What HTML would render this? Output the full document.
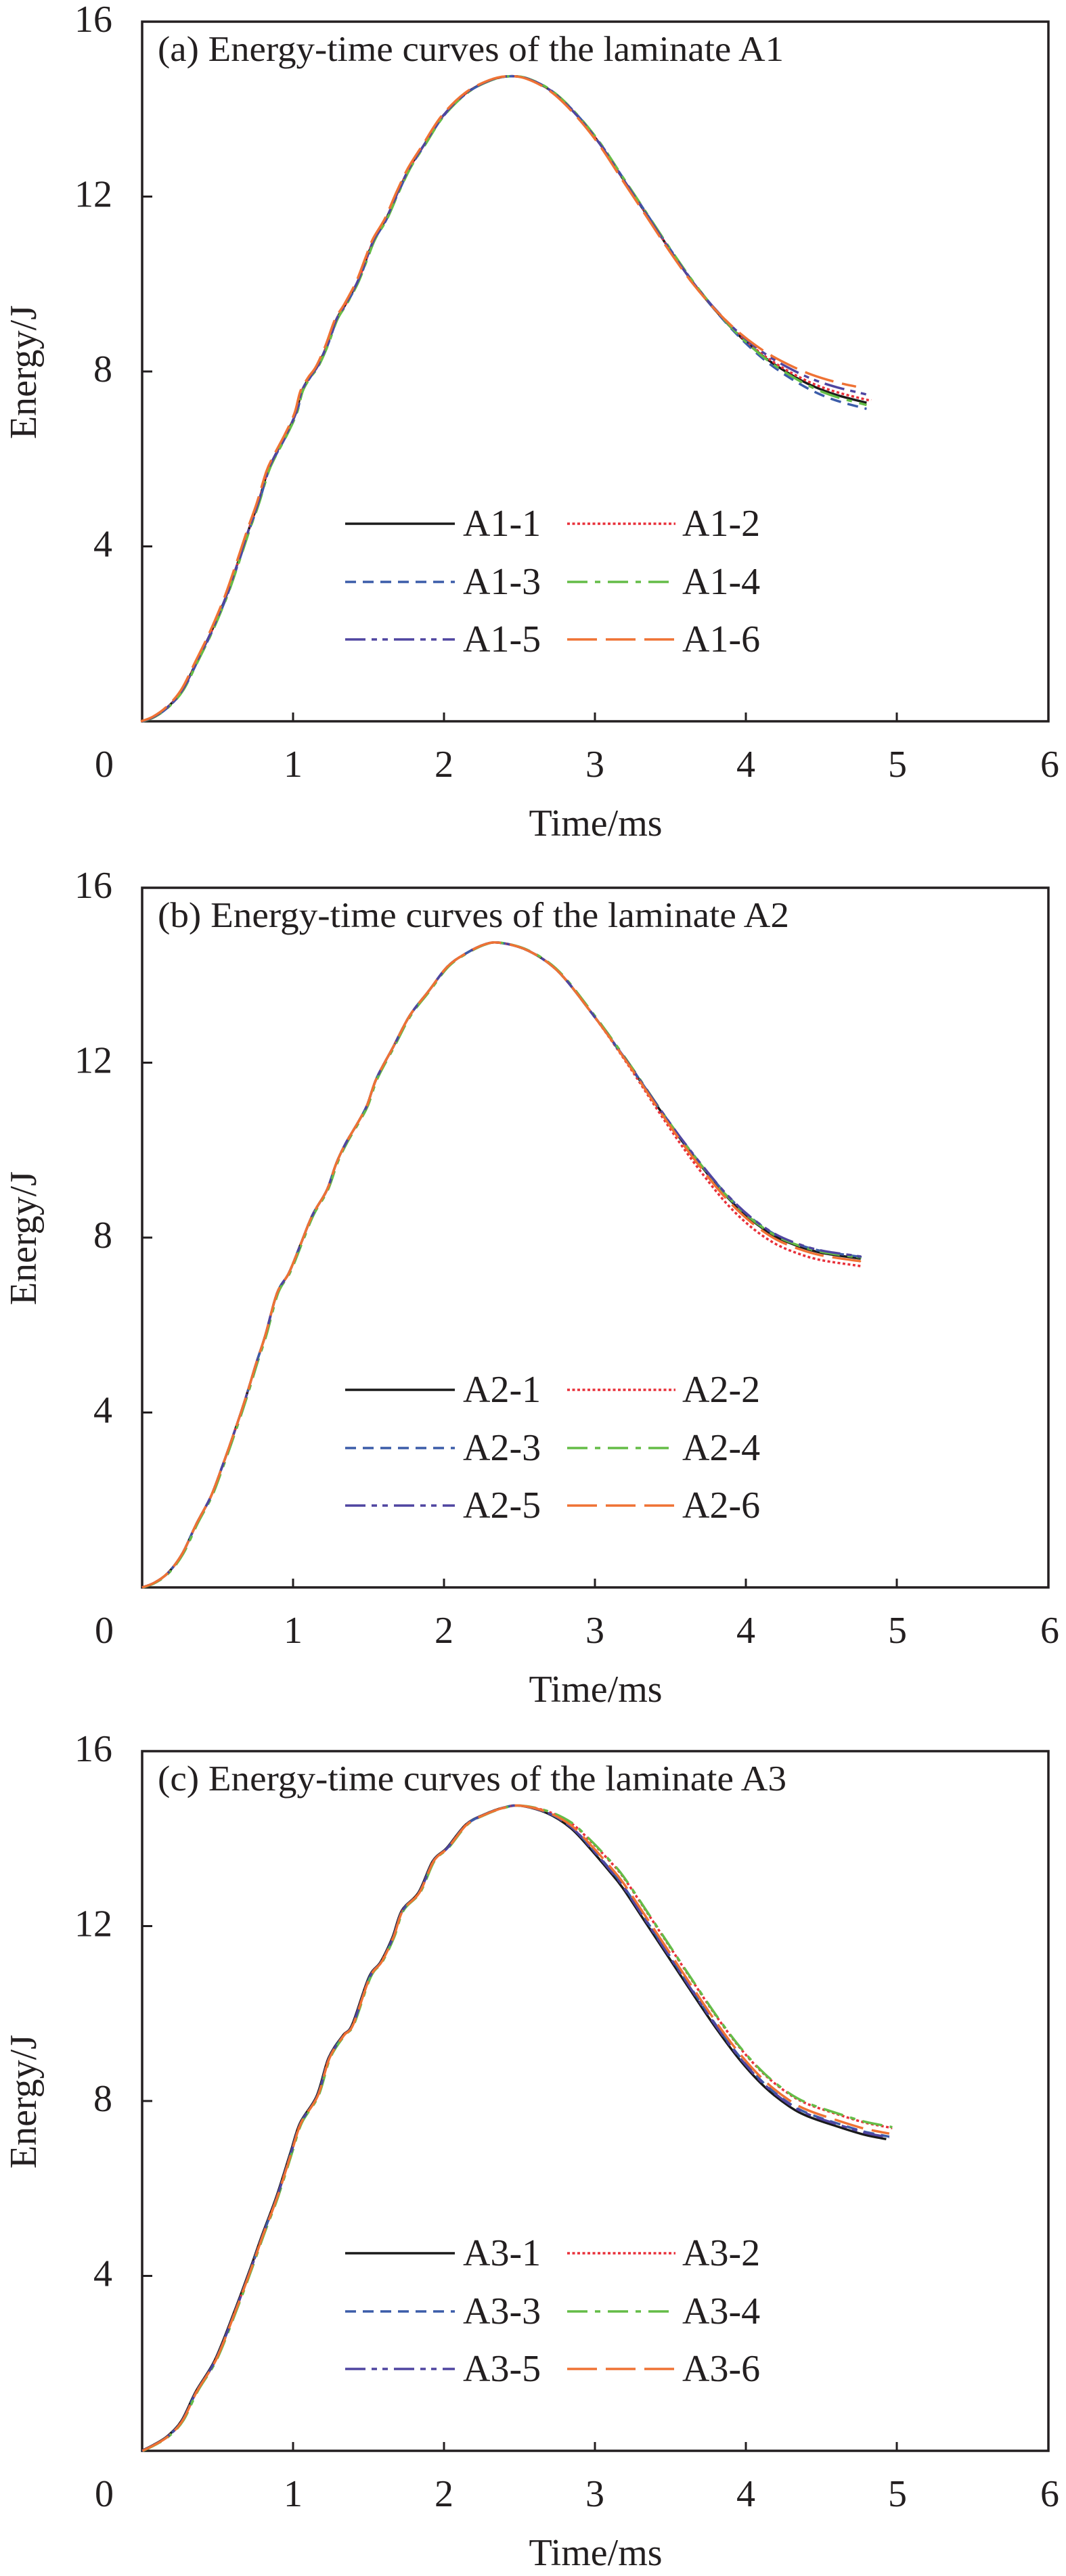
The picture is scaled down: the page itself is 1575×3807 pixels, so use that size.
<!DOCTYPE html>
<html>
<head>
<meta charset="utf-8">
<style>
  html,body{margin:0;padding:0;background:#fff;}
  svg{display:block;}
  text{font-family:"Liberation Serif","Times New Roman",serif;fill:#231f20;}
  .tk{font-size:56px;}
  .lg{font-size:56px;}
  .tt{font-size:53px;}
</style>
</head>
<body>
<svg id="fig" xmlns="http://www.w3.org/2000/svg" width="1575" height="3807" viewBox="0 0 1575 3807">
  <rect x="0" y="0" width="1575" height="3807" fill="#fff"/>

  <!-- ================= Plot (a) ================= -->
  <g id="pa">
    <rect x="210" y="32" width="1339" height="1034" fill="none" stroke="#231f20" stroke-width="3.5"/>
    <g stroke="#231f20" stroke-width="3">
      <line x1="433" y1="1066" x2="433" y2="1053"/>
      <line x1="656" y1="1066" x2="656" y2="1053"/>
      <line x1="879" y1="1066" x2="879" y2="1053"/>
      <line x1="1102" y1="1066" x2="1102" y2="1053"/>
      <line x1="1325" y1="1066" x2="1325" y2="1053"/>
      <line x1="210" y1="807.5" x2="225" y2="807.5"/>
      <line x1="210" y1="549" x2="225" y2="549"/>
      <line x1="210" y1="290.5" x2="225" y2="290.5"/>
    </g>
    <g class="tk" text-anchor="end">
      <text x="166" y="822.5">4</text>
      <text x="166" y="564">8</text>
      <text x="166" y="305.5">12</text>
      <text x="166" y="47">16</text>
    </g>
    <g class="tk" text-anchor="middle">
      <text x="154" y="1148">0</text>
      <text x="433" y="1148">1</text>
      <text x="656" y="1148">2</text>
      <text x="879" y="1148">3</text>
      <text x="1102" y="1148">4</text>
      <text x="1326" y="1148">5</text>
      <text x="1551" y="1148">6</text>
      <text x="880" y="1235">Time/ms</text>
      <text transform="translate(53,550) rotate(-90)">Energy/J</text>
    </g>
    <text class="tt" x="233" y="90" textLength="925" lengthAdjust="spacingAndGlyphs">(a) Energy-time curves of the laminate A1</text>
    <g id="curves-a"></g>
    <g stroke-width="3.4" fill="none">
      <line x1="510" y1="774" x2="672" y2="774" stroke="#1a1a1a"/>
      <line x1="838" y1="774" x2="998" y2="774" stroke="#e8303a" stroke-dasharray="4 3.5"/>
      <line x1="510" y1="860" x2="672" y2="860" stroke="#3b5ca9" stroke-dasharray="16 10"/>
      <line x1="838" y1="860" x2="998" y2="860" stroke="#64bc47" stroke-dasharray="30 11 8 11"/>
      <line x1="510" y1="945" x2="672" y2="945" stroke="#4f45a0" stroke-dasharray="30 9 8 8 8 9"/>
      <line x1="838" y1="945" x2="998" y2="945" stroke="#ef7234" stroke-dasharray="44 13"/>
    </g>
    <g class="lg">
      <text x="684" y="792">A1-1</text>
      <text x="1008" y="792">A1-2</text>
      <text x="684" y="878">A1-3</text>
      <text x="1008" y="878">A1-4</text>
      <text x="684" y="963">A1-5</text>
      <text x="1008" y="963">A1-6</text>
    </g>
  </g>

  <!-- ================= Plot (b) ================= -->
  <g id="pb">
    <rect x="210" y="1312" width="1339" height="1034" fill="none" stroke="#231f20" stroke-width="3.5"/>
    <g stroke="#231f20" stroke-width="3">
      <line x1="433" y1="2346" x2="433" y2="2333"/>
      <line x1="656" y1="2346" x2="656" y2="2333"/>
      <line x1="879" y1="2346" x2="879" y2="2333"/>
      <line x1="1102" y1="2346" x2="1102" y2="2333"/>
      <line x1="1325" y1="2346" x2="1325" y2="2333"/>
      <line x1="210" y1="2087.5" x2="225" y2="2087.5"/>
      <line x1="210" y1="1829" x2="225" y2="1829"/>
      <line x1="210" y1="1570.5" x2="225" y2="1570.5"/>
    </g>
    <g class="tk" text-anchor="end">
      <text x="166" y="2102.5">4</text>
      <text x="166" y="1844">8</text>
      <text x="166" y="1585.5">12</text>
      <text x="166" y="1327">16</text>
    </g>
    <g class="tk" text-anchor="middle">
      <text x="154" y="2428">0</text>
      <text x="433" y="2428">1</text>
      <text x="656" y="2428">2</text>
      <text x="879" y="2428">3</text>
      <text x="1102" y="2428">4</text>
      <text x="1326" y="2428">5</text>
      <text x="1551" y="2428">6</text>
      <text x="880" y="2515">Time/ms</text>
      <text transform="translate(53,1830) rotate(-90)">Energy/J</text>
    </g>
    <text class="tt" x="233" y="1370" textLength="933" lengthAdjust="spacingAndGlyphs">(b) Energy-time curves of the laminate A2</text>
    <g id="curves-b"></g>
    <g stroke-width="3.4" fill="none">
      <line x1="510" y1="2054" x2="672" y2="2054" stroke="#1a1a1a"/>
      <line x1="838" y1="2054" x2="998" y2="2054" stroke="#e8303a" stroke-dasharray="4 3.5"/>
      <line x1="510" y1="2140" x2="672" y2="2140" stroke="#3b5ca9" stroke-dasharray="16 10"/>
      <line x1="838" y1="2140" x2="998" y2="2140" stroke="#64bc47" stroke-dasharray="30 11 8 11"/>
      <line x1="510" y1="2225" x2="672" y2="2225" stroke="#4f45a0" stroke-dasharray="30 9 8 8 8 9"/>
      <line x1="838" y1="2225" x2="998" y2="2225" stroke="#ef7234" stroke-dasharray="44 13"/>
    </g>
    <g class="lg">
      <text x="684" y="2072">A2-1</text>
      <text x="1008" y="2072">A2-2</text>
      <text x="684" y="2158">A2-3</text>
      <text x="1008" y="2158">A2-4</text>
      <text x="684" y="2243">A2-5</text>
      <text x="1008" y="2243">A2-6</text>
    </g>
  </g>

  <!-- ================= Plot (c) ================= -->
  <g id="pc">
    <rect x="210" y="2588" width="1339" height="1034" fill="none" stroke="#231f20" stroke-width="3.5"/>
    <g stroke="#231f20" stroke-width="3">
      <line x1="433" y1="3622" x2="433" y2="3609"/>
      <line x1="656" y1="3622" x2="656" y2="3609"/>
      <line x1="879" y1="3622" x2="879" y2="3609"/>
      <line x1="1102" y1="3622" x2="1102" y2="3609"/>
      <line x1="1325" y1="3622" x2="1325" y2="3609"/>
      <line x1="210" y1="3363.5" x2="225" y2="3363.5"/>
      <line x1="210" y1="3105" x2="225" y2="3105"/>
      <line x1="210" y1="2846.5" x2="225" y2="2846.5"/>
    </g>
    <g class="tk" text-anchor="end">
      <text x="166" y="3378.5">4</text>
      <text x="166" y="3120">8</text>
      <text x="166" y="2861.5">12</text>
      <text x="166" y="2603">16</text>
    </g>
    <g class="tk" text-anchor="middle">
      <text x="154" y="3704">0</text>
      <text x="433" y="3704">1</text>
      <text x="656" y="3704">2</text>
      <text x="879" y="3704">3</text>
      <text x="1102" y="3704">4</text>
      <text x="1326" y="3704">5</text>
      <text x="1551" y="3704">6</text>
      <text x="880" y="3791">Time/ms</text>
      <text transform="translate(53,3106) rotate(-90)">Energy/J</text>
    </g>
    <text class="tt" x="233" y="2646" textLength="929" lengthAdjust="spacingAndGlyphs">(c) Energy-time curves of the laminate A3</text>
    <g id="curves-c"></g>
    <g stroke-width="3.4" fill="none">
      <line x1="510" y1="3330" x2="672" y2="3330" stroke="#1a1a1a"/>
      <line x1="838" y1="3330" x2="998" y2="3330" stroke="#e8303a" stroke-dasharray="4 3.5"/>
      <line x1="510" y1="3416" x2="672" y2="3416" stroke="#3b5ca9" stroke-dasharray="16 10"/>
      <line x1="838" y1="3416" x2="998" y2="3416" stroke="#64bc47" stroke-dasharray="30 11 8 11"/>
      <line x1="510" y1="3501" x2="672" y2="3501" stroke="#4f45a0" stroke-dasharray="30 9 8 8 8 9"/>
      <line x1="838" y1="3501" x2="998" y2="3501" stroke="#ef7234" stroke-dasharray="44 13"/>
    </g>
    <g class="lg">
      <text x="684" y="3348">A3-1</text>
      <text x="1008" y="3348">A3-2</text>
      <text x="684" y="3434">A3-3</text>
      <text x="1008" y="3434">A3-4</text>
      <text x="684" y="3519">A3-5</text>
      <text x="1008" y="3519">A3-6</text>
    </g>
  </g>
</svg>

<script>
(function(){
  var NS="http://www.w3.org/2000/svg";
  var X0=210, UX=223, UY=64.625;
  var styles=[
    {c:'#1a1a1a',d:''},
    {c:'#e8303a',d:'4 3.5'},
    {c:'#3b5ca9',d:'16 10'},
    {c:'#64bc47',d:'30 11 8 11'},
    {c:'#4f45a0',d:'30 9 8 8 8 9'},
    {c:'#ef7234',d:'44 13'}
  ];
  function ss(a,b,t){var x=Math.min(1,Math.max(0,(t-a)/(b-a)));return x*x*(3-2*x);}
  function toTE(z){return [(z[0]-15)/318.7,(1548-z[1])/97.75];}

  var A=[[15,1548],[40,1538],[70,1515],[100,1478],[130,1415],[160,1350],[190,1275],[215,1200],[240,1120],[260,1060],[280,990],[295,955],[320,905],[340,858],[352,810],[368,780],[385,755],[405,708],[425,650],[445,615],[470,565],[490,510],[505,470],[530,425],[555,365],[580,310],[610,260],[650,195],[700,143],[750,115],[790,106],[830,112],[880,140],[930,190],[980,255],[1030,335],[1080,415],[1130,495],[1180,570],[1230,635],[1280,690],[1330,735],[1380,770],[1430,798],[1480,818],[1545,836],[1565,839]];
  var B=[[15,1548],[40,1538],[70,1515],[100,1472],[130,1405],[160,1345],[185,1275],[210,1200],[235,1120],[255,1050],[275,985],[300,890],[325,845],[350,780],[375,715],[405,660],[425,600],[445,555],[470,510],[490,470],[510,410],[545,340],[580,270],[620,215],[660,160],[700,130],[740,110],[770,107],[820,120],[870,150],[910,190],[960,258],[1000,315],[1050,390],[1100,468],[1150,543],[1200,612],[1250,675],[1300,725],[1350,762],[1400,785],[1450,800],[1525,812],[1540,814]];
  var C=[[15,1548],[40,1535],[70,1515],[100,1480],[130,1415],[170,1345],[210,1240],[245,1140],[270,1065],[300,980],[330,880],[350,815],[385,755],[410,670],[440,620],[460,595],[495,490],[520,455],[545,400],[565,340],[600,300],[630,230],[660,200],[700,148],[740,125],[780,110],[815,106],[870,122],[920,155],[960,200],[1000,250],[1030,290],[1080,370],[1130,450],[1180,530],[1230,608],[1280,678],[1330,735],[1380,777],[1420,800],[1480,822],[1535,840],[1570,848],[1595,853],[1610,856]];

  var plots=[
    {id:'curves-a',Bot:1066,base:A,s:[3.5,4.8],k:[0,0.07,-0.14,-0.05,0.19,0.31],ends:[4.80,4.83,4.80,4.80,4.80,4.73],dx:[0,0,1,1.5,0,-2]},
    {id:'curves-b',Bot:2346,base:B,s:[2.9,4.0],k:[0,-0.17,0.04,0.02,0.05,-0.06],ends:[4.74,4.75,4.75,4.74,4.75,4.74],dx:[0,0,0,1.5,0,0]},
    {id:'curves-c',Bot:3622,base:C,s:[2.5,3.3],k:[0,0.28,0.07,0.30,0.05,0.14],ends:[4.93,4.97,4.95,4.97,4.95,4.95],dx:[-1,0,0,1.5,0,0.5]}
  ];

  function pathD(pts){
    var d='M'+pts[0][0].toFixed(1)+','+pts[0][1].toFixed(1);
    for(var i=0;i<pts.length-1;i++){
      var p0=pts[i-1]||pts[i],p1=pts[i],p2=pts[i+1],p3=pts[i+2]||pts[i+1];
      var c1x=p1[0]+(p2[0]-p0[0])/6,c1y=p1[1]+(p2[1]-p0[1])/6;
      var c2x=p2[0]-(p3[0]-p1[0])/6,c2y=p2[1]-(p3[1]-p1[1])/6;
      d+=' C'+c1x.toFixed(1)+','+c1y.toFixed(1)+' '+c2x.toFixed(1)+','+c2y.toFixed(1)+' '+p2[0].toFixed(1)+','+p2[1].toFixed(1);
    }
    return d;
  }

  plots.forEach(function(P){
    var g=document.getElementById(P.id);
    var te=P.base.map(toTE);
    for(var si=0;si<6;si++){
      var pts=[];
      var endT=P.ends[si];
      for(var i=0;i<te.length;i++){
        var t=te[i][0],E=te[i][1];
        if(t>endT){
          var tp=te[i-1][0],Ep=te[i-1][1];
          var f=(endT-tp)/(t-tp);
          t=endT;E=Ep+(E-Ep)*f;
          var e2=E+P.k[si]*ss(P.s[0],P.s[1],t);
          pts.push([X0+t*UX+P.dx[si]*(1-ss(P.s[0],P.s[1],t)),P.Bot-Math.max(0,e2)*UY]);
          break;
        }
        var e=E+P.k[si]*ss(P.s[0],P.s[1],t);
        pts.push([X0+t*UX+P.dx[si]*(1-ss(P.s[0],P.s[1],t)),P.Bot-Math.max(0,e)*UY]);
      }
      var p=document.createElementNS(NS,'path');
      p.setAttribute('d',pathD(pts));
      p.setAttribute('fill','none');
      p.setAttribute('stroke',styles[si].c);
      p.setAttribute('stroke-width','3.5');
      p.setAttribute('stroke-linejoin','round');
      if(styles[si].d) p.setAttribute('stroke-dasharray',styles[si].d);
      g.appendChild(p);
    }
  });
})();
</script>
</body>
</html>
